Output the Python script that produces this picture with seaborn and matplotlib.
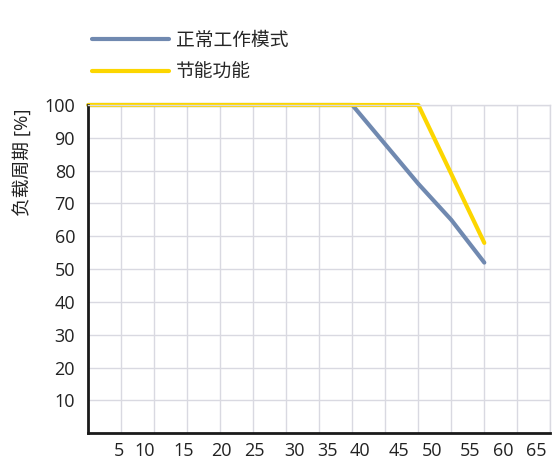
import pandas as pd
import numpy as np
import matplotlib
matplotlib.use("Agg")
import matplotlib.pyplot as plt
import seaborn as sns

sns.set_style("white")
plt.rcParams['font.family'] = ['Open Sans', 'Noto Sans CJK SC', 'DejaVu Sans']

# data (x in axis units, y = duty cycle %)
normal_x = [0, 40, 45, 50, 55, 60]
normal_y = [100, 100, 88, 76, 65, 52]
eco_x = [0, 50, 55, 60]
eco_y = [100, 100, 79, 58]
series_names = ['正常工作模式', '节能功能']
colors = ['#7089b0', '#fcd600']

x_ticks = [5, 10, 15, 20, 25, 30, 35, 40, 45, 50, 55, 60, 65, 70]
x_labels = ['5', '10', '15', '20', '25', '30', '35', '40', '45', '50', '55', '60', '65']
# labels in the reference sit a little off their tick marks
x_label_pos = [4.6, 8.6, 14.5, 20.2, 25.1, 31.2, 36.2, 41.1, 47.0, 52.1, 57.8, 62.9, 67.9]
y_ticks = [10, 20, 30, 40, 50, 60, 70, 80, 90, 100]
y_label = '负载周期 [%]'

df = pd.concat([
    pd.DataFrame({'x': normal_x, 'y': normal_y, 'mode': series_names[0]}),
    pd.DataFrame({'x': eco_x, 'y': eco_y, 'mode': series_names[1]}),
])

fig = plt.figure(figsize=(5.57, 4.76), dpi=100)
ax = fig.add_axes([0.1585, 0.0897, 0.988 - 0.1585, 0.7794 - 0.0897])

sns.lineplot(data=df, x='x', y='y', hue='mode', hue_order=series_names,
             palette=dict(zip(series_names, colors)), linewidth=3,
             sort=False, estimator=None, ax=ax, clip_on=False)

ax.set_xlim(0, 70)
ax.set_ylim(0, 100)

grid_c = '#d9d9e1'
ax.set_xticks(x_ticks, minor=True)
ax.set_xticks(x_label_pos)
ax.set_xticklabels(x_labels)
ax.set_yticks(y_ticks)
ax.tick_params(axis='x', which='major', length=0, pad=6, labelsize=13, colors='#222222')
ax.tick_params(axis='x', which='minor', direction='in', length=5.5, width=1.3, color='#222222')
ax.tick_params(axis='y', direction='in', length=7.5, width=1.3, pad=9.5, labelsize=13,
               colors='#222222')
ax.grid(False)
ax.grid(True, axis='x', which='minor', color=grid_c, linewidth=1)
ax.grid(True, axis='y', which='major', color=grid_c, linewidth=1)
ax.set_axisbelow(True)

for s in ['left', 'bottom']:
    ax.spines[s].set_color('#1a1a1a')
    ax.spines[s].set_linewidth(2)
for s in ['top', 'right']:
    ax.spines[s].set_color(grid_c)
    ax.spines[s].set_linewidth(1)

ax.set_xlabel('')
ax.set_ylabel(y_label, fontsize=13.5, color='#222222')
ax.yaxis.set_label_coords(-0.122, 0.826)

handles, labels = ax.get_legend_handles_labels()
ax.legend(handles, labels, loc='lower left', bbox_to_anchor=(92 / 557, 1 - 82 / 476),
          bbox_transform=fig.transFigure, frameon=False, fontsize=13.5,
          handlelength=4.1, handletextpad=0.4, labelspacing=0.75,
          borderpad=0, borderaxespad=0)

fig.savefig('out.png', dpi=100)
